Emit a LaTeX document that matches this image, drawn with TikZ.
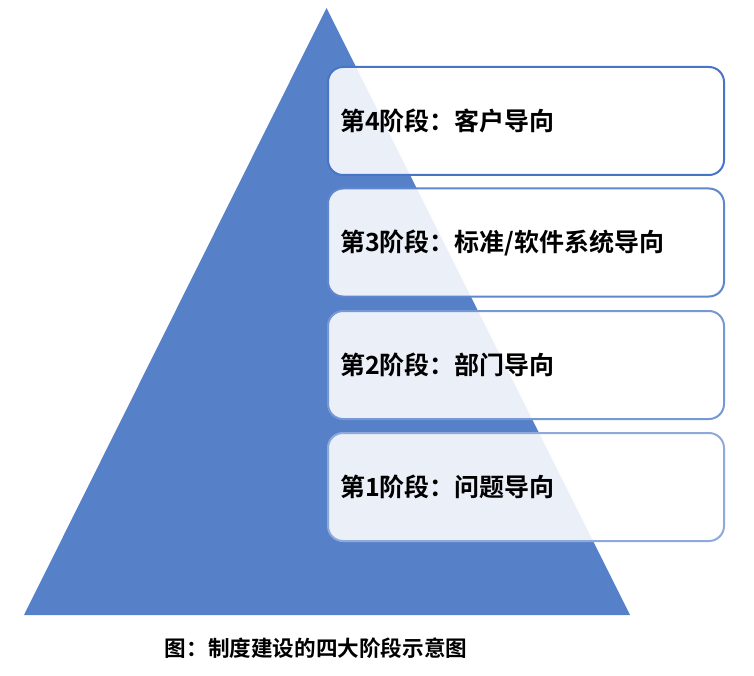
\documentclass[tikz,border=0pt]{standalone}
\usepackage{fontspec}
\newfontfamily\cjkbold{Noto Sans CJK SC Bold}
\definecolor{pyramidblue}{RGB}{86,129,201}
\definecolor{edgeA}{RGB}{142,170,219}
\definecolor{edgeB}{RGB}{118,152,213}
\definecolor{edgeC}{RGB}{95,135,205}
\definecolor{edgeD}{RGB}{72,117,197}
\tikzset{
  stagebox/.style={draw=#1, line width=2pt, rounded corners=15pt,
    fill=white, fill opacity=0.88, text opacity=1,
    minimum width=396pt, minimum height=108pt,
    text width=372pt, inner xsep=12pt, align=left,
    font=\cjkbold\fontsize{25}{30}\selectfont},
}
\begin{document}
\begin{tikzpicture}[x=1pt,y=-1pt]
  \useasboundingbox (0,0) rectangle (754,676);

  % Pyramid
  \coordinate (apex) at (326.5,8);
  \coordinate (baseL) at (24,615);
  \coordinate (baseR) at (630,615);
  \fill [pyramidblue] (apex) -- (baseL) -- (baseR) -- cycle;

  % Stage boxes, top to bottom
  \node [stagebox=edgeD] (stage4) at (526,121) {第4阶段：客户导向};
  \node [stagebox=edgeC] (stage3) at (526,242.5) {第3阶段：标准/软件系统导向};
  \node [stagebox=edgeB] (stage2) at (526,365) {第2阶段：部门导向};
  \node [stagebox=edgeA] (stage1) at (526,487) {第1阶段：问题导向};

  % Caption
  \node [font=\cjkbold\fontsize{21.6}{26}\selectfont] (caption) at (316,648)
    {图：制度建设的四大阶段示意图};
\end{tikzpicture}
\end{document}
